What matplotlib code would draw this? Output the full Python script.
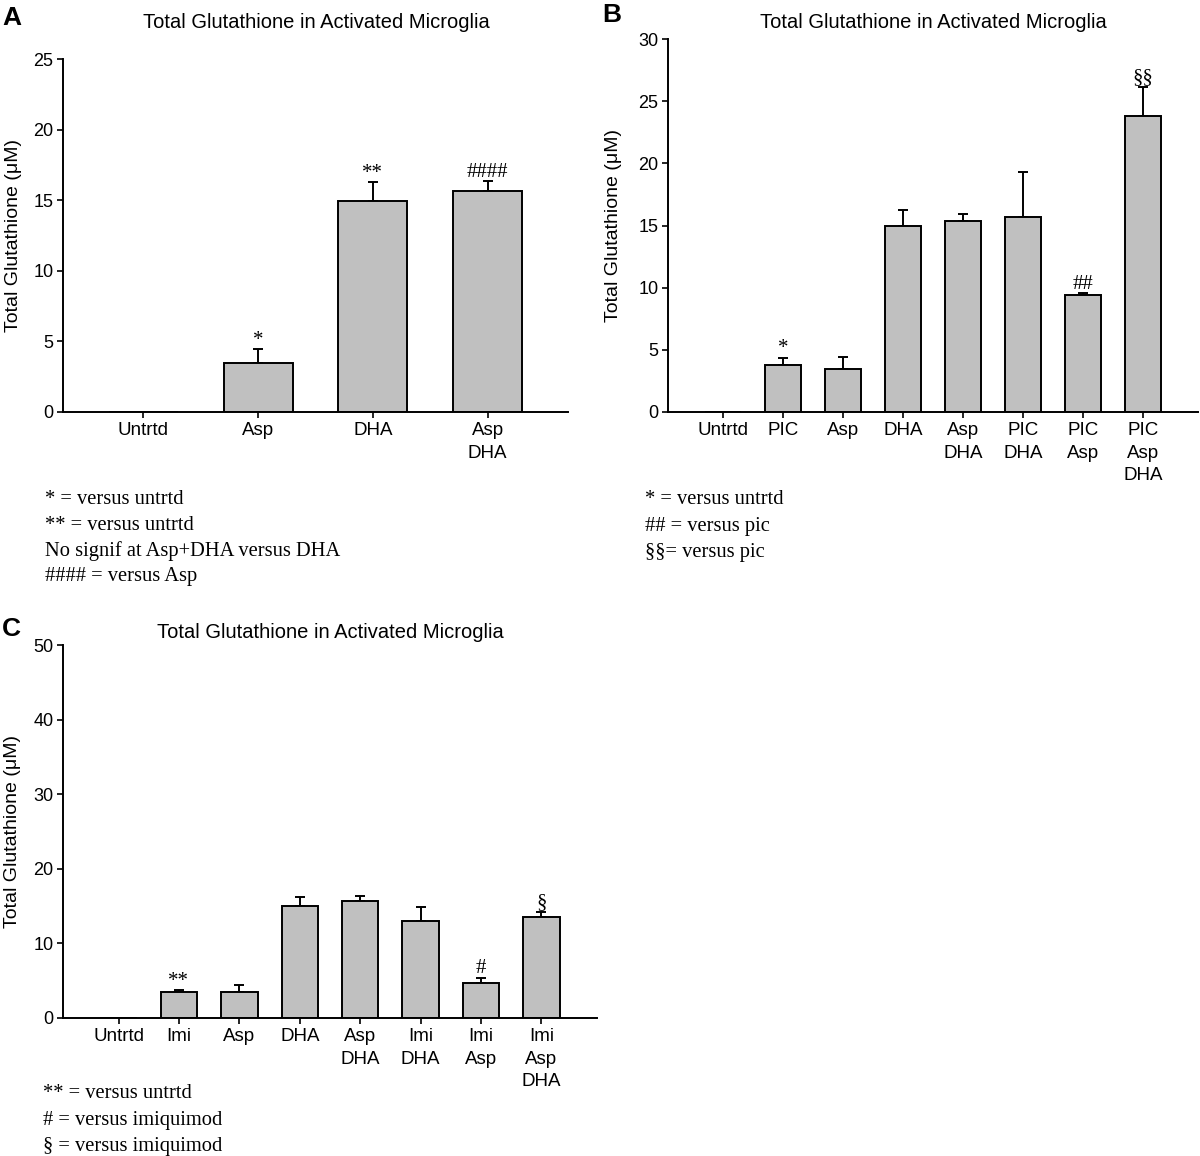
import numpy as np
import matplotlib
matplotlib.use("Agg")
import matplotlib.pyplot as plt

# panel A
labels_a = ["Untrtd", "Asp", "DHA", "Asp\nDHA"]
gsh_a = [0.0, 3.45, 14.97, 15.63]
err_a = [0.0, 1.0, 1.3, 0.7]
marks_a = ["", "*", "**", "####"]
notes_a = ["* = versus untrtd", "** = versus untrtd",
           "No signif at Asp+DHA versus DHA", "#### = versus Asp"]

# panel B
labels_b = ["Untrtd", "PIC", "Asp", "DHA", "Asp\nDHA", "PIC\nDHA", "PIC\nAsp", "PIC\nAsp\nDHA"]
gsh_b = [0.0, 3.78, 3.46, 14.95, 15.35, 15.70, 9.40, 23.84]
err_b = [0.0, 0.6, 0.96, 1.29, 0.54, 3.59, 0.19, 2.33]
marks_b = ["", "*", "", "", "", "", "##", "§§"]
notes_b = ["* = versus untrtd", "## = versus pic", "§§= versus pic"]

# panel C
labels_c = ["Untrtd", "Imi", "Asp", "DHA", "Asp\nDHA", "Imi\nDHA", "Imi\nAsp", "Imi\nAsp\nDHA"]
gsh_c = [0.0, 3.54, 3.50, 15.02, 15.67, 13.01, 4.71, 13.57]
err_c = [0.0, 0.24, 0.98, 1.26, 0.7, 1.9, 0.7, 0.7]
marks_c = ["", "**", "", "", "", "", "#", "§"]
notes_c = ["** = versus untrtd", "# = versus imiquimod", "§ = versus imiquimod"]

title = "Total Glutathione in Activated Microglia"
ylab = "Total Glutathione (μM)"

W, H = 1200, 1156
SANS = "Liberation Sans"
SERIF = "Liberation Serif"
plt.rcParams["font.family"] = SANS

fig = plt.figure(figsize=(W / 100, H / 100), dpi=100)


def box(l, t, r, b):
    return [l / W, 1 - b / H, (r - l) / W, (b - t) / H]


def ftext(x, y, s, **kw):
    fig.text(x / W, 1 - y / H, s, **kw)


def panel(ax, labels, vals, errs, marks, ymax, step, margin):
    n = len(labels)
    x = np.arange(n)
    vals = np.array(vals)
    errs = np.array(errs)
    ax.bar(x, vals, width=0.6, color="#c0c0c0", edgecolor="black",
           linewidth=1.4, zorder=2)
    m = errs > 0
    ax.errorbar(x[m], vals[m], yerr=[np.zeros(m.sum()), errs[m]], fmt="none",
                ecolor="black", elinewidth=1.4, capsize=3.5, capthick=1.4, zorder=1)
    for i in range(n):
        if marks[i]:
            ax.annotate(marks[i], (x[i], vals[i] + errs[i]), xytext=(0, 3),
                        textcoords="offset points", ha="center", va="baseline",
                        fontsize=15, family=SERIF)
    ax.set_xlim(-margin, n - 1 + margin)
    ax.set_ylim(0, ymax)
    ax.set_yticks(np.arange(0, ymax + 1, step))
    ax.set_xticks(x)
    ax.set_xticklabels(labels, linespacing=1.45)
    for s in ["top", "right"]:
        ax.spines[s].set_visible(False)
    for s in ["left", "bottom"]:
        ax.spines[s].set_linewidth(1.4)
    ax.tick_params(direction="out", length=4, width=1.2, pad=3)
    ax.tick_params(axis="x", labelsize=13.5)
    ax.tick_params(axis="y", labelsize=13)


axA = fig.add_axes(box(63, 59, 568, 412))
panel(axA, labels_a, gsh_a, err_a, marks_a, 25, 5, 0.7)
axB = fig.add_axes(box(668, 39, 1198, 412))
panel(axB, labels_b, gsh_b, err_b, marks_b, 30, 5, 0.92)
axC = fig.add_axes(box(63, 645, 597, 1018))
panel(axC, labels_c, gsh_c, err_c, marks_c, 50, 10, 0.92)

# titles, y labels, panel letters
ftext(316, 22, title, ha="center", va="center", fontsize=14.5)
ftext(933, 23, title, ha="center", va="center", fontsize=14.5)
ftext(330, 632, title, ha="center", va="center", fontsize=14.5)
ftext(14, 235, ylab, ha="center", va="center", rotation=90, fontsize=14)
ftext(613, 225, ylab, ha="center", va="center", rotation=90, fontsize=14)
ftext(13, 831, ylab, ha="center", va="center", rotation=90, fontsize=14)
ftext(2, 18, "A", ha="left", va="center", fontsize=19, fontweight="bold")
ftext(602, 15, "B", ha="left", va="center", fontsize=19, fontweight="bold")
ftext(2, 629, "C", ha="left", va="center", fontsize=19, fontweight="bold")

# footnotes
for k, s in enumerate(notes_a):
    ftext(45, 499 + 26 * k, s, ha="left", va="center", fontsize=14.8, family=SERIF)
for k, s in enumerate(notes_b):
    ftext(645, 499 + 27 * k, s, ha="left", va="center", fontsize=14.8, family=SERIF)
for k, s in enumerate(notes_c):
    ftext(43, 1094 + 26 * k, s, ha="left", va="center", fontsize=14.8, family=SERIF)

fig.savefig("out.png", dpi=100)
